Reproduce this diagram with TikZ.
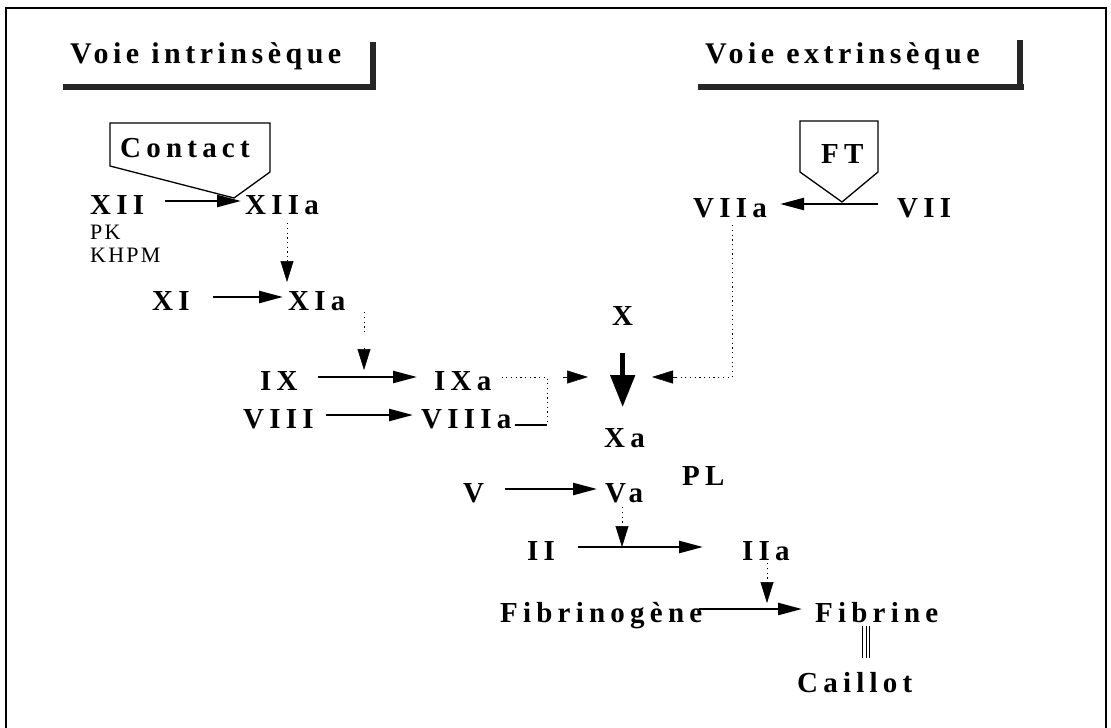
\documentclass[tikz,border=0pt]{standalone}
\usepackage{fontspec}
\setmainfont{Liberation Serif}
\newfontfamily\labf[LetterSpace=18]{Liberation Serif}
\newfontfamily\ttlf[LetterSpace=15]{Liberation Serif}
\newfontfamily\regf[LetterSpace=10]{Liberation Serif}
\usetikzlibrary{arrows.meta}
\begin{document}
\begin{tikzpicture}[x=1pt,y=-1pt,
 lbl/.style={inner sep=0pt,anchor=base west,text height=26pt,text depth=0pt,font=\labf\bfseries\fontsize{29}{32}\selectfont},
 ttl/.style={inner sep=0pt,anchor=base west,font=\ttlf\bfseries\fontsize{30}{34}\selectfont},
 small/.style={inner sep=0pt,anchor=base west,font=\regf\fontsize{22}{24}\selectfont},
 arr/.style={line width=2.4pt,-{Triangle[length=24pt,width=12pt]}},
 bigarr/.style={line width=5pt,-{Triangle[length=32pt,width=24pt]}},
 dot/.style={line width=0.9pt,dash pattern=on 1.2pt off 3.5pt},
 head/.style={line width=0.5pt,-{Triangle[length=21pt,width=13pt]}},
 bar/.style={line width=5.5pt,black!85},
 box/.style={line width=1.3pt,line join=miter}]
\useasboundingbox (0,0) rectangle (1111,728);
\draw[line width=1.5pt] (6,728) -- (6,8) -- (1106,8) -- (1106,728);
% titles
\node[ttl] (ti) at (70,63) {Voie intrinsèque};
\node[ttl] (te) at (705,63) {Voie extrinsèque};
\draw[bar] (63,87) -- (376,87); \draw[bar] (373,42) -- (373,90);
\draw[bar] (698,87) -- (1024,87); \draw[bar] (1020,40) -- (1020,90);
% callout boxes
\draw[box] (110,123) -- (270,123) -- (270,172) -- (234,198) -- (110,166) -- cycle;
\node[lbl] (contact) at (120,157) {Contact};
\draw[box] (800,121) -- (878,121) -- (878,172) -- (842,202) -- (800,172) -- cycle;
\node[lbl] (ft) at (821,163) {FT};
% labels
\node[lbl] (xii) at (90,214) {XII};
\node[lbl] (xiia) at (245,214) {XIIa};
\node[small] (pk) at (90,239) {PK};
\node[small] (khpm) at (90,262) {KHPM};
\node[lbl] (viia) at (693,217) {VIIa};
\node[lbl] (vii) at (897,217) {VII};
\node[lbl] (xi) at (152,310) {XI};
\node[lbl] (xia) at (288,310) {XIa};
\node[lbl] (ix) at (260,390) {IX};
\node[lbl] (ixa) at (434,390) {IXa};
\node[lbl] (viii) at (243,428) {VIII};
\node[lbl] (viiia) at (421,428) {VIIIa};
\node[lbl] (x) at (612,325) {X};
\node[lbl] (xa) at (604,447) {Xa};
\node[lbl] (pl) at (682,485) {PL};
\node[lbl] (v) at (463,502) {V};
\node[lbl] (va) at (605,502) {Va};
\node[lbl] (ii) at (527,560) {II};
\node[lbl] (iia) at (742,560) {IIa};
\node[lbl] (fgn) at (500,622) {Fibrinogène};
\node[lbl] (fib) at (815,622) {Fibrine};
\node[lbl] (cai) at (797,692) {Caillot};
% solid reaction arrows
\draw[arr,shorten <=21pt,shorten >=4pt] (xii) -- (xiia);
\draw[arr,shorten <=19pt,shorten >=13pt] (vii) -- (viia);
\draw[arr,shorten <=23pt,shorten >=5pt] (xi) -- (xia);
\draw[arr,shorten <=20pt,shorten >=17pt] (ix) -- (ixa);
\draw[arr,shorten <=12pt,shorten >=8pt] (viii) -- (viiia);
\draw[arr,shorten <=21pt,shorten >=8pt] (v) -- (va);
\draw[arr,shorten <=23pt,shorten >=39pt] (ii) -- (iia);
\draw[arr,shorten <=-3pt,shorten >=13pt] (fgn) -- (fib);
\draw[bigarr,shorten <=28pt,shorten >=27pt] (x) -- (x |- xa);
% dotted activations
\coordinate (d1) at (287,260); \coordinate (t1) at (287,282);
\draw[dot,shorten <=9pt] (d1 |- xiia.south) -- (d1); \draw[head] (d1) -- (t1);
\coordinate (e2) at (364,333); \coordinate (d2) at (364,348); \coordinate (t2) at (364,370);
\draw[dot,shorten <=2pt] (e2 |- xia.south) -- (e2); \draw[head] (d2) -- (t2);
\coordinate (d3) at (622,527); \coordinate (t3) at (622,547);
\draw[dot,shorten <=5pt] (d3 |- va.south) -- (d3); \draw[head] (d3) -- (t3);
\coordinate (d4) at (767,582); \coordinate (t4) at (767,603);
\draw[dot,shorten <=3pt] (d4 |- iia.south) -- (d4); \draw[head] (d4) -- (t4);
% tenase junction
\coordinate (j1) at (547,377); \coordinate (j2) at (547,425);
\draw[dot,shorten <=10pt] (ixa.east) -- (j1) -- (j2);
\draw[line width=1.2pt] ([xshift=3pt]viiia.east |- j2) -- (j2);
\coordinate (lh1) at (563,377); \coordinate (lh2) at (588,377);
\draw[head] (lh1) -- (lh2);
\coordinate (j3) at (732,377); \coordinate (rh1) at (677,377); \coordinate (rh2) at (652,377);
\draw[dot,shorten <=8pt] (j3 |- viia.south) -- (j3) -- (rh1);
\draw[head] (rh1) -- (rh2);
% fibrine to caillot
\coordinate (c1) at (866,626); \coordinate (c2) at (866,658);
\foreach \dx in {-3.5,0,3.5} \draw[line width=1pt] ([xshift=\dx pt]c1) -- ([xshift=\dx pt]c2);
\end{tikzpicture}
\end{document}
